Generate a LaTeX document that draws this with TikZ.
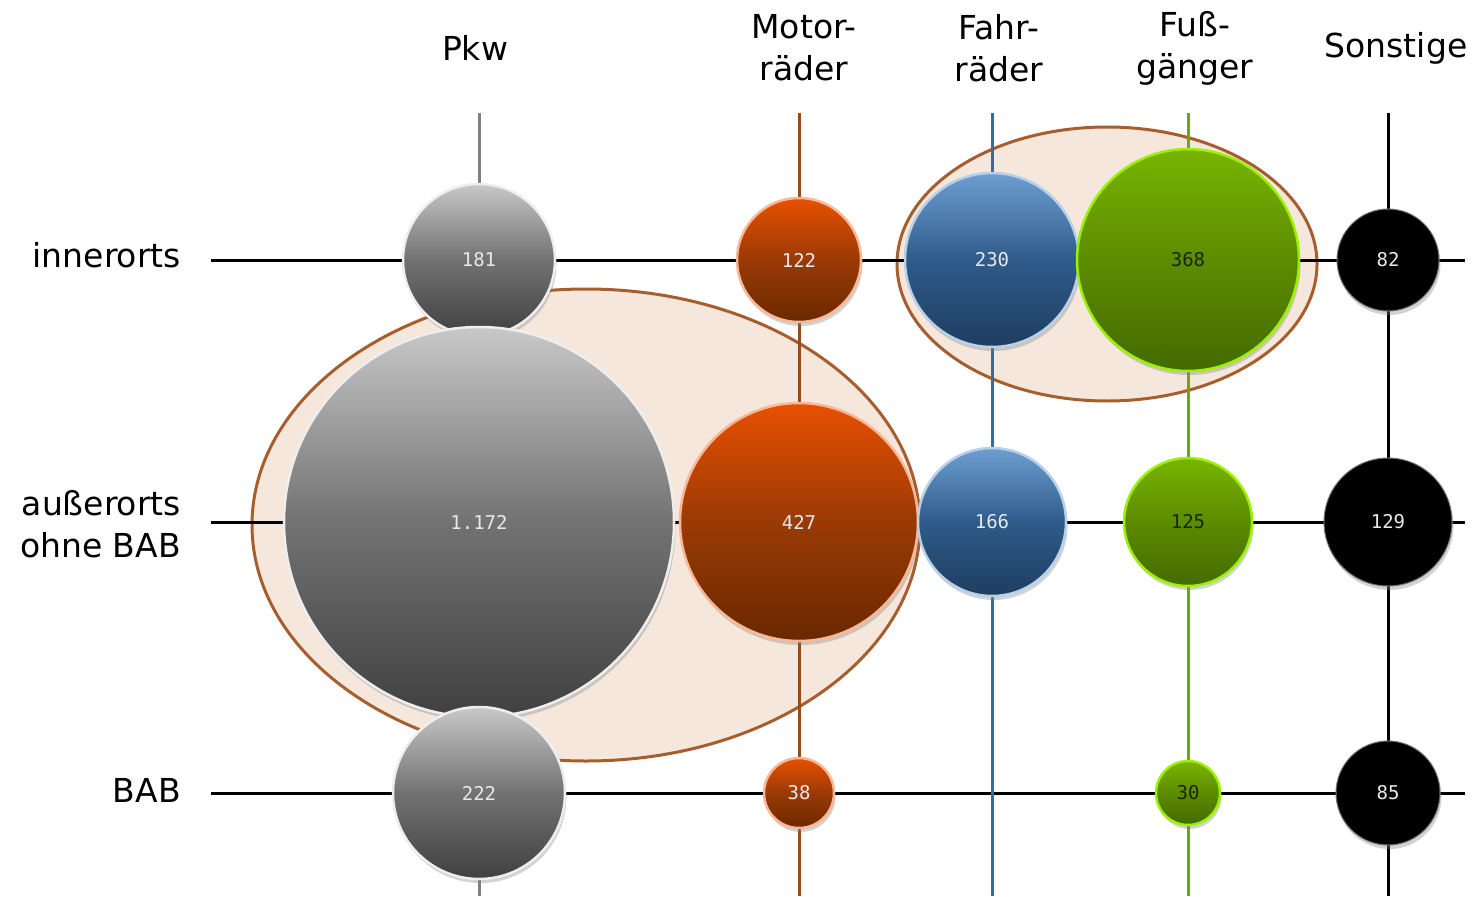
\documentclass[tikz,border=0pt]{standalone}
\usepackage{fontspec}
\setmainfont{DejaVu Sans}
\newfontfamily\numfont{DejaVu Sans Mono}
\usetikzlibrary{shadows}

\definecolor{pkwline}{HTML}{808080}
\definecolor{motline}{HTML}{974A1A}
\definecolor{fahrline}{HTML}{3B6B9B}
\definecolor{fussline}{HTML}{72A40E}
\definecolor{ovalfill}{HTML}{F5E7DC}
\definecolor{ovalrim}{HTML}{A65E2E}
\definecolor{pkwtop}{HTML}{C8C8C8}
\definecolor{pkwmid}{HTML}{727272}
\definecolor{pkwbot}{HTML}{404040}
\definecolor{pkwrim}{HTML}{EEEEEE}
\definecolor{mottop}{HTML}{E85000}
\definecolor{motmid}{HTML}{9A3A05}
\definecolor{motbot}{HTML}{6A2800}
\definecolor{motrim}{HTML}{F8B898}
\definecolor{fahrtop}{HTML}{6E9ED2}
\definecolor{fahrmid}{HTML}{2E5B8A}
\definecolor{fahrbot}{HTML}{1F3D60}
\definecolor{fahrrim}{HTML}{B8D0E8}
\definecolor{fusstop}{HTML}{78B400}
\definecolor{fussmid}{HTML}{5C8C00}
\definecolor{fussbot}{HTML}{436A00}
\definecolor{fussrim}{HTML}{9CF000}
\definecolor{numlight}{HTML}{E8E8E8}
\definecolor{numdark}{HTML}{1A2600}

\begin{document}
\begin{tikzpicture}[x=1pt,y=-1pt,
        bubble/.style={circle,inner sep=0pt,line width=2.5pt,
            font=\numfont\fontsize{19}{19}\selectfont,
            drop shadow={opacity=0.35,shadow xshift=1.5pt,shadow yshift=-4pt}},
        pkwbubble/.style={bubble,draw=pkwrim,top color=pkwtop,bottom color=pkwbot,middle color=pkwmid,text=numlight},
        motbubble/.style={bubble,draw=motrim,top color=mottop,bottom color=motbot,middle color=motmid,text=numlight},
        fahrbubble/.style={bubble,draw=fahrrim,top color=fahrtop,bottom color=fahrbot,middle color=fahrmid,text=numlight},
        fussbubble/.style={bubble,draw=fussrim,top color=fusstop,bottom color=fussbot,middle color=fussmid,text=numdark},
        restbubble/.style={bubble,draw=black!55,line width=1pt,fill=black,text=numlight},
        head/.style={font=\fontsize{33}{42}\selectfont,align=center},
        rowhead/.style={font=\fontsize{33}{42}\selectfont,align=right,anchor=east,inner sep=0pt},
        grid/.style={line width=3pt}
    ]
    \useasboundingbox (0,0) rectangle (1479,896);

    % column and row headers
    \node[head] (pkw) at (475,48) {Pkw};
    \node[head] (mot) at (804,48) {Motor-\\räder};
    \node[head] (fahr) at (999,48) {Fahr-\\räder};
    \node[head] (fuss) at (1195,48) {Fuß-\\gänger};
    \node[head] (rest) at (1396,48) {Sonstige};
    \node[rowhead] (inner) at (181,255) {innerorts};
    \node[rowhead] (ausser) at (181,524) {außerorts\\ohne BAB};
    \node[rowhead] (bab) at (181,790) {BAB};

    % highlighted groups
    \draw[line width=3pt,draw=ovalrim,fill=ovalfill] (586,525) ellipse [x radius=334pt,y radius=236pt];
    \draw[line width=3pt,draw=ovalrim,fill=ovalfill] (1107,264) ellipse [x radius=210pt,y radius=137pt];

    % grid lines
    \foreach \y/\name in {260/inner,522/ausser,793/bab} {
        \coordinate (\name L) at (211,\y);
        \coordinate (\name R) at (1465,\y);
        \draw[grid] (\name L) -- (\name R);
    }
    \foreach \x/\name/\col in {479/pkw/pkwline,799/mot/motline,992/fahr/fahrline,1188/fuss/fussline,1388/rest/black} {
        \coordinate (\name T) at (\x,113);
        \coordinate (\name B) at (\x,896);
        \draw[grid,draw=\col] (\name T) -- (\name B);
    }

    % bubbles
    \node[pkwbubble,minimum size=152pt] (pkwinner) at (479,260) {181};
    \node[motbubble,minimum size=124pt] (motinner) at (799,260) {122};
    \node[fahrbubble,minimum size=174pt] (fahrinner) at (992,260) {230};
    \node[fussbubble,minimum size=222pt] (fussinner) at (1188,260) {368};
    \node[restbubble,minimum size=102pt] (restinner) at (1388,260) {82};

    \node[pkwbubble,minimum size=390pt] (pkwausser) at (479,522) {1.172};
    \node[motbubble,minimum size=238pt] (motausser) at (799,522) {427};
    \node[fahrbubble,minimum size=148pt] (fahrausser) at (992,522) {166};
    \node[fussbubble,minimum size=128pt] (fussausser) at (1188,522) {125};
    \node[restbubble,minimum size=128pt] (restausser) at (1388,522) {129};

    \node[pkwbubble,minimum size=172pt] (pkwbab) at (479,793) {222};
    \node[motbubble,minimum size=70pt] (motbab) at (799,793) {38};
    \node[fussbubble,minimum size=64pt] (fussbab) at (1188,793) {30};
    \node[restbubble,minimum size=104pt] (restbab) at (1388,793) {85};
\end{tikzpicture}
\end{document}
